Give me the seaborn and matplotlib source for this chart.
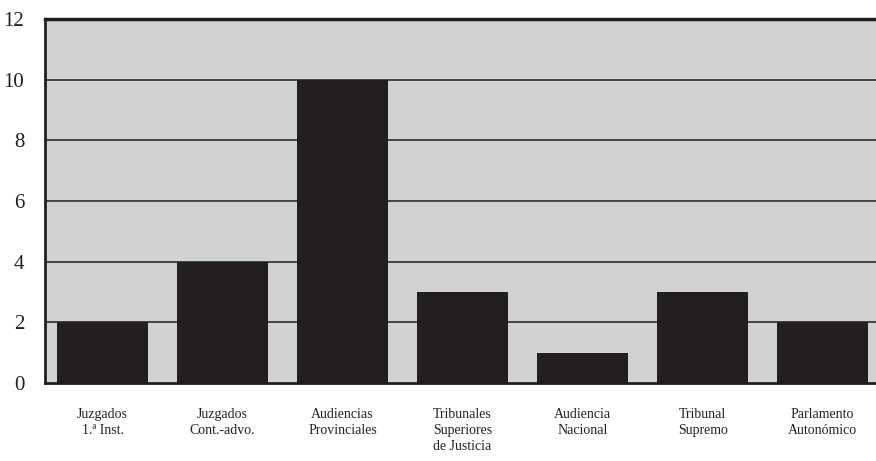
import matplotlib
matplotlib.use("Agg")
import matplotlib.pyplot as plt
import seaborn as sns
import pandas as pd

categories = ["Juzgados\n1.ª Inst.", "Juzgados\nCont.-advo.", "Audiencias\nProvinciales",
              "Tribunales\nSuperiores\nde Justicia", "Audiencia\nNacional",
              "Tribunal\nSupremo", "Parlamento\nAutonómico"]
values = [2, 4, 10, 3, 1, 3, 2]
yticks = [0, 2, 4, 6, 8, 10, 12]

sns.set_style("white")
plt.rcParams['font.family'] = ['Liberation Serif', 'DejaVu Serif']

df = pd.DataFrame({"cat": categories, "val": values})

fig = plt.figure(figsize=(8.76, 4.61), dpi=100)
ax = fig.add_axes([45/876, 78/461, 840/876, 364/461])
ax.set_facecolor('#d1d2d4')

for y in yticks[1:-1]:
    ax.axhline(y, color='#3a3a3c', linewidth=1.3, zorder=0.5)

sns.barplot(data=df, x="cat", y="val", color='#231f20', saturation=1,
            width=0.76, ax=ax, zorder=2, edgecolor='none')

ax.set_xlim(-0.48, 6.52)
ax.set_ylim(0, 12)
ax.set_yticks(yticks)
ax.set_yticklabels([str(v) for v in yticks], fontsize=15)
ax.tick_params(axis='y', length=0, pad=15, colors='#231f20')
ax.tick_params(axis='x', length=0, pad=18, labelsize=10, colors='#231f20')
for lab in ax.get_xticklabels():
    lab.set_linespacing(1.3)
ax.set_xlabel("")
ax.set_ylabel("")

for side in ['top', 'left', 'bottom']:
    ax.spines[side].set_visible(True)
    ax.spines[side].set_color('#231f20')
ax.spines['top'].set_linewidth(2.5)
ax.spines['left'].set_linewidth(2)
ax.spines['bottom'].set_linewidth(2)
ax.spines['right'].set_visible(False)

fig.savefig("out.png", dpi=100)
